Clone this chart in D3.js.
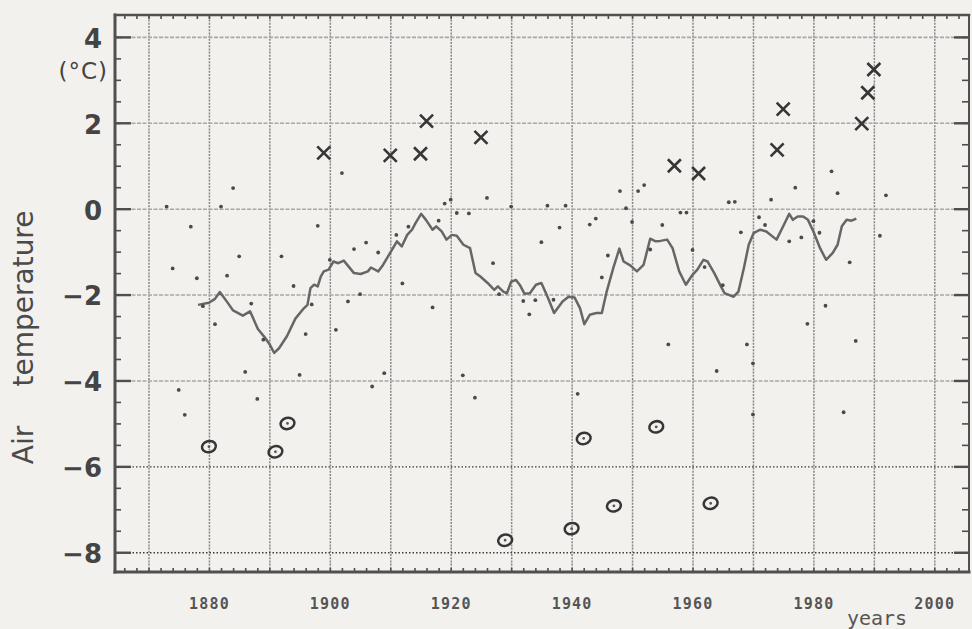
<!DOCTYPE html>
<html>
<head>
<meta charset="utf-8">
<script src="https://cdn.jsdelivr.net/npm/d3@7"></script>
<style>
  html, body { margin: 0; padding: 0; background: #f2f1ee; }
  svg { display: block; }
</style>
</head>
<body>
<svg id="chart" width="972" height="629"></svg>
<script>
// Annual air temperature values (small dots)
const dotYears = [1873, 1874, 1875, 1876, 1877, 1878, 1879, 1881, 1882, 1883, 1884, 1885, 1886, 1887, 1888, 1889,
  1892, 1894, 1895, 1896, 1897, 1898, 1900, 1901, 1902, 1903, 1904, 1905, 1906, 1907, 1908, 1909,
  1911, 1912, 1913, 1917, 1918, 1919, 1920, 1921, 1922, 1923, 1924, 1926, 1927, 1928, 1930, 1932,
  1933, 1934, 1935, 1936, 1937, 1938, 1939, 1941, 1943, 1944, 1945, 1946, 1948, 1949, 1950, 1951,
  1952, 1953, 1955, 1956, 1958, 1959, 1960, 1962, 1964, 1965, 1966, 1967, 1968, 1969, 1970, 1970,
  1971, 1972, 1973, 1976, 1977, 1978, 1979, 1980, 1981, 1982, 1983, 1984, 1985, 1986, 1987, 1991, 1992];
const dotValues = [0.05, -1.39, -4.22, -4.80, -0.42, -1.62, -2.27, -2.69, 0.05, -1.56, 0.48, -1.11, -3.80, -2.21, -4.43, -3.05,
  -1.11, -1.80, -3.87, -2.92, -2.23, -0.40, -1.19, -2.82, 0.83, -2.16, -0.94, -1.99, -0.79, -4.14, -1.02, -3.83,
  -0.61, -1.74, -0.42, -2.30, -0.28, 0.12, 0.21, -0.10, -3.88, -0.11, -4.40, 0.25, -1.27, -1.99, 0.05, -2.15,
  -2.46, -2.13, -0.78, 0.07, -2.12, -0.44, 0.07, -4.31, -0.37, -0.23, -1.60, -1.09, 0.41, 0.01, -0.31, 0.41,
  0.55, -0.95, -0.38, -3.16, -0.09, -0.09, -0.96, -1.36, -3.78, -1.78, 0.15, 0.16, -0.55, -3.16, -3.60, -4.79,
  -0.20, -0.38, 0.21, -0.76, 0.49, -0.67, -2.68, -0.29, -0.56, -2.26, 0.87, 0.36, -4.74, -1.25, -3.08, -0.63, 0.31];

// Warm extremes (crosses)
const warmYears = [1899, 1910, 1915, 1916, 1925, 1957, 1961, 1974, 1975, 1988, 1989, 1990];
const warmValues = [1.30, 1.24, 1.28, 2.04, 1.66, 1.00, 0.82, 1.37, 2.32, 1.98, 2.70, 3.24];

// Cold extremes (ringed points)
const coldYears = [1880, 1891, 1893, 1929, 1940, 1942, 1947, 1954, 1963];
const coldValues = [-5.54, -5.66, -5.00, -7.72, -7.45, -5.35, -6.92, -5.08, -6.86];

// Running mean
const meanYears = [1878.2, 1880.0, 1881.0, 1881.8, 1883.0, 1884.0, 1885.6, 1886.8, 1888.1, 1889.2, 1890.0, 1890.8,
  1891.6, 1892.9, 1894.3, 1895.7, 1896.3, 1896.8, 1897.4, 1898.0, 1898.5, 1899.0, 1899.8, 1900.6, 1901.4, 1902.3,
  1904.0, 1905.1, 1906.3, 1906.8, 1908.0, 1908.8, 1910.1, 1911.1, 1911.9, 1912.8, 1913.6, 1914.2, 1915.1, 1915.9,
  1917.0, 1917.6, 1918.5, 1919.3, 1920.2, 1921.0, 1922.1, 1923.2, 1924.1, 1924.9, 1926.1, 1927.2, 1927.8, 1928.7,
  1929.3, 1930.0, 1930.8, 1931.4, 1932.2, 1933.1, 1934.1, 1935.0, 1936.1, 1937.1, 1938.5, 1939.5, 1940.5, 1941.4,
  1942.1, 1943.0, 1944.1, 1945.0, 1945.8, 1946.9, 1947.9, 1948.6, 1949.7, 1950.8, 1951.9, 1953.0, 1953.9, 1954.7,
  1955.8, 1956.7, 1957.8, 1958.9, 1960.0, 1960.8, 1961.8, 1962.5, 1963.6, 1964.7, 1965.3, 1965.7, 1966.8, 1967.6,
  1968.5, 1969.3, 1970.1, 1971.2, 1972.2, 1973.9, 1975.0, 1976.0, 1976.6, 1977.4, 1978.3, 1979.1, 1980.0, 1981.1,
  1982.1, 1983.2, 1984.0, 1984.7, 1985.5, 1986.3, 1987.1];
const meanValues = [-2.24, -2.19, -2.10, -1.94, -2.17, -2.37, -2.49, -2.39, -2.80, -2.99, -3.15, -3.36,
  -3.25, -2.97, -2.56, -2.32, -2.24, -1.85, -1.77, -1.81, -1.58, -1.46, -1.42, -1.23, -1.27, -1.21,
  -1.50, -1.52, -1.46, -1.37, -1.46, -1.31, -1.00, -0.76, -0.88, -0.61, -0.49, -0.33, -0.12, -0.26,
  -0.49, -0.41, -0.53, -0.72, -0.61, -0.63, -0.84, -0.92, -1.50, -1.58, -1.73, -1.89, -1.81, -1.93,
  -1.97, -1.70, -1.66, -1.77, -1.98, -1.97, -1.77, -1.73, -2.08, -2.43, -2.16, -2.05, -2.07, -2.32,
  -2.69, -2.47, -2.43, -2.43, -1.93, -1.38, -0.93, -1.23, -1.32, -1.46, -1.31, -0.70, -0.76, -0.75,
  -0.72, -0.92, -1.46, -1.77, -1.54, -1.42, -1.19, -1.23, -1.50, -1.81, -1.97, -1.99, -2.05, -1.93,
  -1.38, -0.84, -0.57, -0.49, -0.53, -0.72, -0.41, -0.12, -0.26, -0.18, -0.18, -0.26, -0.53, -0.92,
  -1.19, -1.03, -0.84, -0.41, -0.26, -0.28, -0.23];

// Axis ticks and labels
const yTickValues = [-8, -6, -4, -2, 0, 2, 4];
const yTickLabels = ["\u22128", "\u22126", "\u22124", "\u22122", "0", "2", "4"];
const xLabelYears = [1880, 1900, 1920, 1940, 1960, 1980, 2000];
const xGridYears = [1870, 1880, 1890, 1900, 1910, 1920, 1930, 1940, 1950, 1960, 1970, 1980, 1990, 2000];

const svg = d3.select("#chart");
const frame = { left: 115, right: 969, top: 15, bottom: 572 };
const ink = "#4e4e4e";

const x = d3.scaleLinear().domain([1864.46, 2005.74]).range([frame.left, frame.right]);
const y = d3.scaleLinear().domain([-8.46, 4.51]).range([frame.bottom, frame.top]);

svg.append("rect").attr("width", 972).attr("height", 629).attr("fill", "#f2f1ee");

// Vertical decade grid
const gx = svg.append("g").attr("transform", `translate(0,${frame.bottom})`)
  .call(d3.axisBottom(x).tickValues(xGridYears).tickSize(-(frame.bottom - frame.top)).tickFormat(""));
gx.select(".domain").remove();
gx.selectAll(".tick line").attr("stroke", "#858585").attr("stroke-width", 1.5).attr("stroke-dasharray", "2,1.2");

// Horizontal grid
const gy = svg.append("g").attr("transform", `translate(${frame.left},0)`)
  .call(d3.axisLeft(y).tickValues(yTickValues).tickSize(-(frame.right - frame.left)).tickFormat(""));
gy.select(".domain").remove();
gy.selectAll(".tick line").each(function (d) {
  const l = d3.select(this);
  if (d <= -6) l.attr("stroke", "#3c3c3c").attr("stroke-width", 1.4).attr("stroke-dasharray", "1.5,2");
  else l.attr("stroke", "#a8a8a8").attr("stroke-width", 1.6).attr("stroke-dasharray", "4,1.5");
});

// Minor ticks, inside the frame on all four sides
const minorY = d3.range(-8, 4.01, 0.5);
const minorX = d3.range(1866, 2005, 2);
const tickStyle = g => { g.select(".domain").remove(); g.selectAll(".tick line").attr("stroke", ink).attr("stroke-width", 1.6); };
svg.append("g").attr("transform", `translate(${frame.left},0)`)
  .call(d3.axisLeft(y).tickValues(minorY).tickSize(-6).tickFormat("")).call(tickStyle);
svg.append("g").attr("transform", `translate(${frame.right},0)`)
  .call(d3.axisRight(y).tickValues(minorY).tickSize(-7).tickFormat("")).call(tickStyle);
svg.append("g").attr("transform", `translate(0,${frame.bottom})`)
  .call(d3.axisBottom(x).tickValues(minorX).tickSize(-4).tickFormat("")).call(tickStyle);
svg.append("g").attr("transform", `translate(0,${frame.top})`)
  .call(d3.axisTop(x).tickValues(minorX).tickSize(-4).tickFormat("")).call(tickStyle);

// Major y ticks with labels
const yAxis = svg.append("g").attr("transform", `translate(${frame.left},0)`)
  .call(d3.axisLeft(y).tickValues(yTickValues).tickSize(-16).tickPadding(13)
    .tickFormat((d, i) => yTickLabels[i]));
yAxis.select(".domain").remove();
yAxis.selectAll(".tick line").attr("stroke", ink).attr("stroke-width", 2.4);
yAxis.selectAll(".tick text").attr("fill", "#444").attr("dy", "0.40em")
  .style("font-family", "'DejaVu Sans', sans-serif").style("font-weight", "bold").style("font-size", "26px");

const yAxisR = svg.append("g").attr("transform", `translate(${frame.right},0)`)
  .call(d3.axisRight(y).tickValues(yTickValues).tickSize(-15).tickFormat(""));
yAxisR.select(".domain").remove();
yAxisR.selectAll(".tick line").attr("stroke", ink).attr("stroke-width", 2.4);

// Year labels
const xAxis = svg.append("g").attr("transform", `translate(0,${frame.bottom})`)
  .call(d3.axisBottom(x).tickValues(xLabelYears).tickSize(0).tickPadding(26).tickFormat(d3.format("d")));
xAxis.select(".domain").remove();
xAxis.selectAll(".tick text").attr("fill", "#555")
  .style("font-family", "'DejaVu Sans Mono', monospace").style("font-weight", "bold")
  .style("font-size", "15px").style("letter-spacing", "1.2px");

// Frame
const border = [
  [frame.left, frame.top, frame.left, frame.bottom, 3],
  [frame.left, frame.bottom, frame.right, frame.bottom, 3],
  [frame.left, frame.top, frame.right, frame.top, 2.5],
  [frame.right, frame.top, frame.right, frame.bottom, 2]
];
svg.append("g").selectAll("line").data(border).join("line")
  .attr("x1", d => d[0]).attr("y1", d => d[1]).attr("x2", d => d[2]).attr("y2", d => d[3])
  .attr("stroke", "#505050").attr("stroke-width", d => d[4]).attr("stroke-linecap", "square");

// Running mean curve
const meanLine = d3.line().x(d => x(d[0])).y(d => y(d[1])).curve(d3.curveLinear);
svg.append("path").datum(meanYears.map((yr, i) => [yr, meanValues[i]]))
  .attr("d", meanLine).attr("fill", "none").attr("stroke", "#666")
  .attr("stroke-width", 2.5).attr("stroke-linejoin", "round");

// Annual dots
svg.append("g").selectAll("circle").data(dotYears.map((yr, i) => [yr, dotValues[i]])).join("circle")
  .attr("cx", d => x(d[0])).attr("cy", d => y(d[1])).attr("r", 1.9).attr("fill", "#4a4a4a");

// Warm extremes
const s = 6.5;
svg.append("g").selectAll("path").data(warmYears.map((yr, i) => [yr, warmValues[i]])).join("path")
  .attr("d", d => {
    const cx = x(d[0]), cy = y(d[1]);
    return `M${cx - s},${cy - s}L${cx + s},${cy + s}M${cx - s},${cy + s}L${cx + s},${cy - s}`;
  })
  .attr("stroke", "#363636").attr("stroke-width", 2.6).attr("fill", "none");

// Cold extremes
const cold = svg.append("g").selectAll("g").data(coldYears.map((yr, i) => [yr, coldValues[i]])).join("g")
  .attr("transform", d => `translate(${x(d[0])},${y(d[1])}) rotate(-15)`);
cold.append("ellipse").attr("rx", 7).attr("ry", 5.6)
  .attr("fill", "none").attr("stroke", "#363636").attr("stroke-width", 2.5);
cold.append("circle").attr("r", 1.4).attr("fill", "#555");

// Axis titles
const titleFont = "'DejaVu Sans', sans-serif";
svg.append("text").attr("transform", "translate(33,445) rotate(-90)")
  .attr("text-anchor", "middle").attr("fill", "#4a4a4a")
  .style("font-family", titleFont).style("font-size", "28px").text("Air");
svg.append("text").attr("transform", "translate(33,298.5) rotate(-90)")
  .attr("text-anchor", "middle").attr("fill", "#4a4a4a")
  .style("font-family", titleFont).style("font-size", "28px").text("temperature");
svg.append("text").attr("x", 108).attr("y", 79).attr("text-anchor", "end").attr("fill", "#444")
  .style("font-family", titleFont).style("font-size", "23px").style("letter-spacing", "1px").text("(°C)");
svg.append("text").attr("x", 877).attr("y", 625).attr("text-anchor", "middle").attr("fill", "#555")
  .style("font-family", "'DejaVu Sans Mono', monospace").style("font-size", "20px").text("years");
</script>
</body>
</html>
